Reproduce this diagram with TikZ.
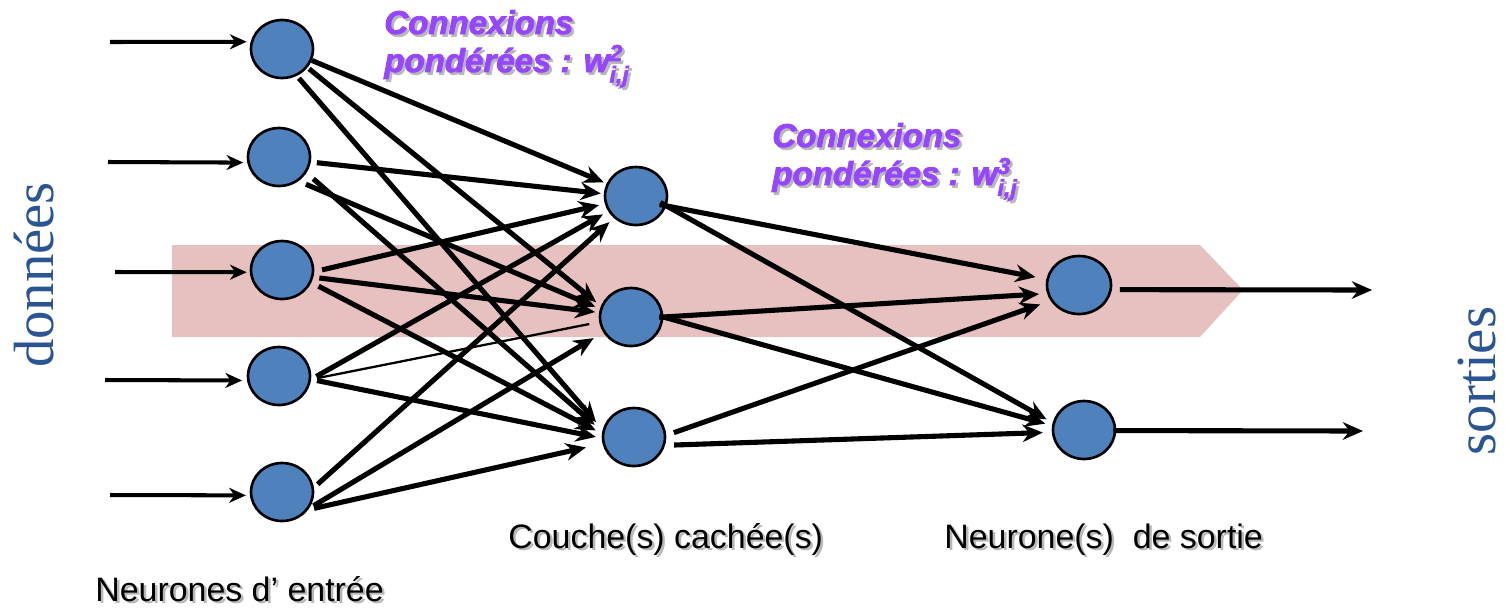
\documentclass[tikz,border=0pt]{standalone}
\usepackage{fontspec}
\usepackage{amsmath}
\setmainfont{Liberation Sans}
\newfontfamily\seriffam{Liberation Serif}
\newfontfamily\weightfam[BoldItalicFeatures={FakeBold=2.5}]{Liberation Sans}
\usetikzlibrary{arrows.meta,shapes.geometric,calc}

\definecolor{neuronblue}{RGB}{79,129,189}
\definecolor{bandpink}{RGB}{231,192,192}
\definecolor{weightpurple}{RGB}{150,70,255}
\definecolor{iotextblue}{RGB}{42,84,146}

% one drawing unit = one pixel of the figure
\newdimen\pxl \pxl=0.02cm

% text set over a soft grey copy of itself, shifted down and right
\newcommand\withshadow[1]{%
  \rlap{\kern2.5\pxl\raisebox{-2.5\pxl}{\color{black!28}#1}}#1}

\begin{document}
\begin{tikzpicture}[x=0.02cm,y=-0.02cm,
  neuron/.style={ellipse, draw=black, line width=1.5pt, fill=neuronblue,
    minimum width=1.24cm, minimum height=1.16cm, inner sep=0pt},
  link/.style={line width=2.9pt, line cap=butt,
    -{Stealth[length=11.5pt,width=10pt,inset=3.8pt]}},
  thinlink/.style={line width=1.3pt},
  inarrow/.style={line width=2.3pt,
    -{Stealth[length=9.5pt,width=8.5pt,inset=3pt]}},
  weightlbl/.style={anchor=base west, inner sep=0pt, text=weightpurple,
    font=\weightfam\bfseries\itshape\fontsize{18.8}{22}\selectfont},
  layerlbl/.style={anchor=base west, inner sep=0pt, text=black,
    font=\fontsize{19.3}{23}\selectfont},
  iolbl/.style={anchor=base, inner sep=0pt, rotate=90, text=iotextblue,
    font=\seriffam\fontsize{32.3}{38}\selectfont},
]
\useasboundingbox (0,0) rectangle (1506,609);

% highlighted path through the network
\fill[bandpink] (172,245) -- (1200,245) -- (1243,290) -- (1200,337) -- (172,337) -- cycle;

% neurons
\node[neuron] (i1) at (282,49) {};
\node[neuron] (i2) at (279,157) {};
\node[neuron] (i3) at (282,270) {};
\node[neuron] (i4) at (279,376) {};
\node[neuron] (i5) at (282,492) {};
\node[neuron] (h1) at (636,196) {};
\node[neuron] (h2) at (631,317) {};
\node[neuron] (h3) at (634,437) {};
\node[neuron, minimum width=1.28cm] (o1) at (1079,285) {};
\node[neuron] (o2) at (1084,430) {};

% inputs
\coordinate (in1) at (110,42);
\coordinate (in2) at (108,162);
\coordinate (in3) at (115,272);
\coordinate (in4) at (105,380);
\coordinate (in5) at (110,495);
\draw[inarrow, shorten >=4\pxl] (in1) -- (i1.167);
\draw[inarrow, shorten >=4\pxl] (in2) -- (i2.-170);
\draw[inarrow, shorten >=3\pxl] (in3) -- (i3.-176);
\draw[inarrow, shorten >=5\pxl] (in4) -- (i4.-172);
\draw[inarrow, shorten >=4\pxl] (in5) -- (i5.-174);

% input layer -> hidden layer
\draw[link, shorten <=0\pxl, shorten >=3\pxl]  (i1.-21) -- (h1.157);
\draw[link, shorten <=2\pxl, shorten >=6\pxl]  (i1.-36) -- (h2.160);
\draw[link, shorten <=3\pxl, shorten >=10\pxl] (i1.-61) -- (h3.167);
\draw[link, shorten <=6\pxl, shorten >=3\pxl]  (i2.-9)  -- (h1.176);
\draw[link, shorten <=8\pxl, shorten >=5\pxl]  (i2.-51) -- (h2.165);
\draw[link, shorten <=9\pxl, shorten >=10\pxl] (i2.-30) -- (h3.170);
\draw[link, shorten <=8\pxl, shorten >=6\pxl]  (i3.-3)  -- (h1.-166);
\draw[link, shorten <=6\pxl, shorten >=4\pxl]  (i3.-13) -- (h2.172);
\draw[link, shorten <=8\pxl, shorten >=7\pxl]  (i3.-23) -- (h3.174);
\draw[link, shorten <=6\pxl, shorten >=6\pxl]  (i4.-6)  -- (h1.-151);
\draw[thinlink, shorten <=6\pxl, shorten >=10\pxl] (i4.-6) -- (h2.-171);
\draw[link, shorten <=6\pxl, shorten >=6\pxl]  (i4.-6)  -- (h3.-178);
\draw[link, shorten <=5\pxl, shorten >=6\pxl]  (i5.8)   -- (h1.-135);
\draw[link, shorten <=5\pxl, shorten >=11\pxl] (i5.-31) -- (h2.-151);
\draw[link, shorten <=6\pxl, shorten >=17\pxl] (i5.-34) -- (h3.-168);

% hidden layer -> output layer
\draw[link, shorten <=-7\pxl, shorten >=11\pxl] (h1.-18) -- (o1.170);
\draw[link, shorten <=-7\pxl, shorten >=7\pxl]  (h1.-18) -- (o2.167);
\draw[link, shorten <=-4\pxl, shorten >=8\pxl]  (h2.0)   -- (o1.-165);
\draw[link, shorten <=-4\pxl, shorten >=7\pxl]  (h2.0)   -- (o2.172);
\draw[link, shorten <=8\pxl, shorten >=11\pxl]  (h3.3)   -- (o1.-151);
\draw[link, shorten <=9\pxl, shorten >=9\pxl]   (h3.-15) -- (o2.-176);

% outputs
\coordinate (out1) at (1372,290);
\coordinate (out2) at (1363,431);
\draw[link, shorten <=8\pxl] (o1.-8) -- (out1);
\draw[link, shorten <=-3\pxl] (o2.-1) -- (out2);

% weight labels
\node[weightlbl] (lblwa) at (384,34) {\withshadow{Connexions}};
\node[weightlbl] (lblwb) at (384,72) {\withshadow{pondérées : $\text{w}^{\text{2}}_{\text{i,j}}$}};
\node[weightlbl] (lblwc) at (772,147) {\withshadow{Connexions}};
\node[weightlbl] (lblwd) at (772,185) {\withshadow{pondérées : $\text{w}^{\text{3}}_{\text{i,j}}$}};

% layer labels
\node[layerlbl] (lblhid) at (508,548) {\withshadow{Couche(s) cachée(s)}};
\node[layerlbl] (lblout) at (944,548) {\withshadow{Neurone(s)\ \ de sortie}};
\node[layerlbl] (lblin) at (95,601) {\withshadow{Neurones d’ entrée}};

% data in / data out
\node[iolbl] (lbldata) at (53,275) {données};
\node[iolbl] (lblsort) at (1495,381) {sorties};
\end{tikzpicture}
\end{document}
